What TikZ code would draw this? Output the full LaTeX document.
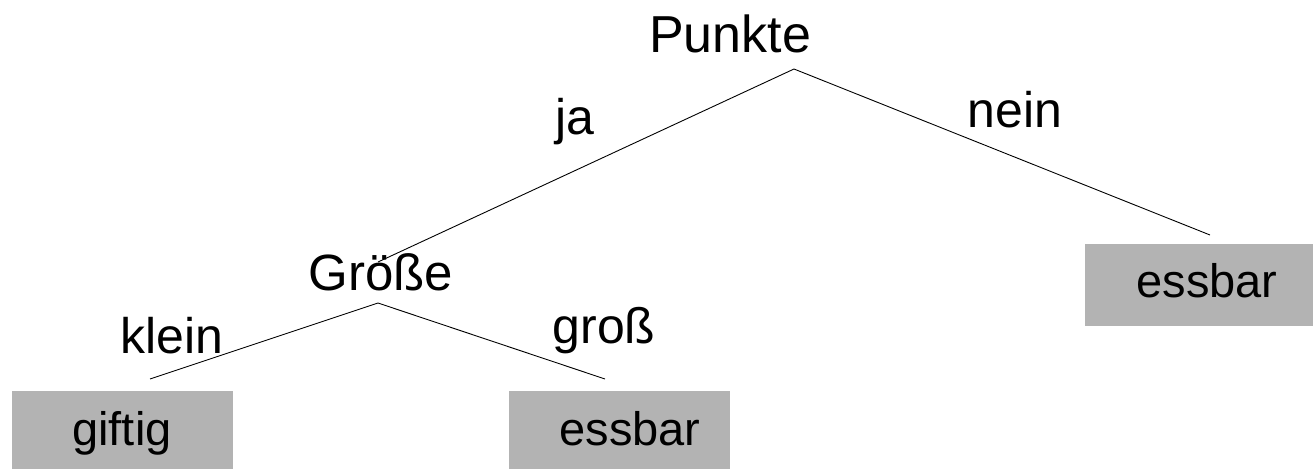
\documentclass[tikz,border=0pt]{standalone}
\usepackage{fontspec}
\setmainfont{Liberation Sans}
\definecolor{leafgray}{RGB}{179,179,179}
\begin{document}
\begin{tikzpicture}[x=1pt,y=-1pt,
  lbl/.style={inner sep=0pt, anchor=base, font=\fontsize{50}{60}\selectfont},
  leaftext/.style={inner sep=0pt, anchor=base, font=\fontsize{47}{56}\selectfont},
  leaf/.style={fill=leafgray, inner sep=0pt, minimum width=221pt, minimum height=78pt},
  edge/.style={draw=black, line width=0.9pt}]
  \useasboundingbox (0,0) rectangle (1313,471);

  % decision nodes
  \node[lbl, font=\fontsize{52}{62}\selectfont] (punkte) at (730,52) {Punkte};
  \node[lbl, font=\fontsize{51}{61}\selectfont] (groesse) at (381,290) {Größe};

  % leaf boxes and their texts
  \node[leaf] (giftig) at (122.5,430) {};
  \node[leaf] (essbar1) at (619,430) {};
  \node[leaf, minimum width=228pt, minimum height=82pt] (essbar2) at (1199,285) {};
  \node[leaftext] (giftig-t) at (122,445) {giftig};
  \node[leaftext] (essbar1-t) at (630,445) {essbar};
  \node[leaftext] (essbar2-t) at (1207,297) {essbar};

  % branch end points
  \coordinate (p-top) at (794,69);
  \coordinate (p-left) at (378,262);
  \coordinate (p-right) at (1210,235);
  \coordinate (g-top) at (378,303);
  \coordinate (g-left) at (150,379);
  \coordinate (g-right) at (605,379);

  \draw[edge] (p-left) -- (p-top) -- (p-right);
  \draw[edge] (g-left) -- (g-top) -- (g-right);

  % branch labels
  \node[lbl] (ja) at (575,134) {ja};
  \node[lbl] (nein) at (1015,127) {nein};
  \node[lbl] (klein) at (172,353) {klein};
  \node[lbl] (gross) at (604,343) {groß};
\end{tikzpicture}
\end{document}
